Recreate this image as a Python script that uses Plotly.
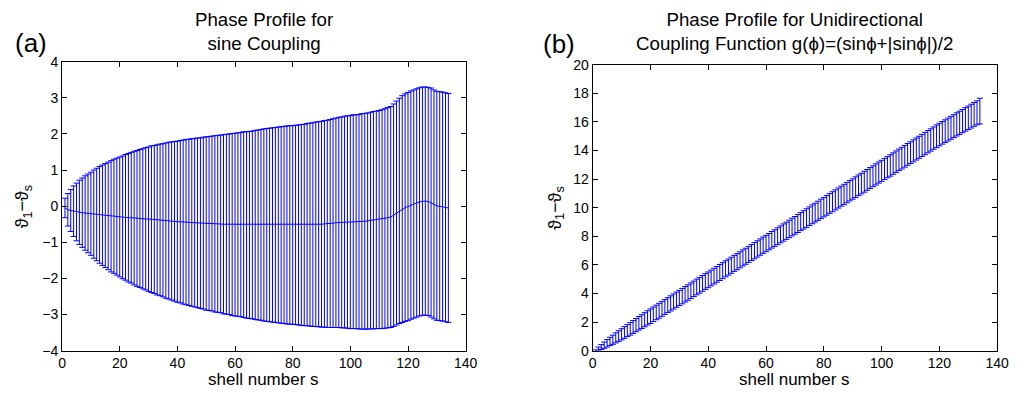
import plotly.graph_objects as go

# ---------------- data ----------------
shells = list(range(1, 135))

# (a) sine coupling: mean phase difference and error half-width
mean_a = [-0.05, -0.10, -0.12, -0.14, -0.16, -0.17, -0.18, -0.19, -0.20, -0.21,
          -0.22, -0.23, -0.24, -0.25, -0.26, -0.27, -0.28, -0.28, -0.29, -0.30,
          -0.31, -0.31, -0.32, -0.32, -0.33, -0.34, -0.34, -0.35, -0.35, -0.36,
          -0.36, -0.37, -0.38, -0.38, -0.39, -0.40, -0.40, -0.41, -0.42, -0.43,
          -0.43, -0.44, -0.44, -0.45, -0.45, -0.46, -0.46, -0.47, -0.47, -0.48,
          -0.48, -0.48, -0.49, -0.49, -0.49, -0.50, -0.50, -0.50, -0.51, -0.51,
          -0.51, -0.51, -0.51, -0.52, -0.52, -0.52, -0.52, -0.52, -0.52, -0.52,
          -0.52, -0.52, -0.52, -0.52, -0.52, -0.52, -0.52, -0.52, -0.52, -0.52,
          -0.52, -0.52, -0.52, -0.52, -0.51, -0.51, -0.51, -0.50, -0.50, -0.50,
          -0.49, -0.49, -0.48, -0.47, -0.46, -0.45, -0.45, -0.44, -0.44, -0.44,
          -0.43, -0.43, -0.43, -0.42, -0.42, -0.41, -0.40, -0.39, -0.38, -0.37,
          -0.36, -0.34, -0.32, -0.30, -0.25, -0.19, -0.13, -0.08, -0.04, -0.01,
          0.03, 0.06, 0.09, 0.12, 0.14, 0.14, 0.13, 0.10, 0.05, 0.01,
          0.00, -0.01, -0.03, -0.05]
err_a = [0.27, 0.45, 0.58, 0.70, 0.80, 0.89, 0.96, 1.03, 1.09, 1.15,
         1.22, 1.28, 1.34, 1.39, 1.44, 1.49, 1.54, 1.58, 1.62, 1.66,
         1.70, 1.74, 1.78, 1.81, 1.85, 1.88, 1.91, 1.94, 1.97, 2.00,
         2.03, 2.05, 2.08, 2.10, 2.12, 2.15, 2.17, 2.19, 2.21, 2.23,
         2.25, 2.27, 2.29, 2.30, 2.32, 2.33, 2.35, 2.36, 2.38, 2.40,
         2.41, 2.42, 2.44, 2.45, 2.46, 2.48, 2.49, 2.50, 2.52, 2.53,
         2.54, 2.55, 2.57, 2.58, 2.59, 2.60, 2.62, 2.63, 2.64, 2.66,
         2.67, 2.68, 2.69, 2.70, 2.71, 2.72, 2.73, 2.74, 2.75, 2.75,
         2.76, 2.77, 2.78, 2.79, 2.80, 2.81, 2.82, 2.83, 2.84, 2.85,
         2.86, 2.87, 2.88, 2.89, 2.90, 2.91, 2.92, 2.93, 2.94, 2.95,
         2.96, 2.96, 2.97, 2.98, 2.99, 2.99, 3.00, 3.01, 3.01, 3.02,
         3.03, 3.04, 3.05, 3.06, 3.08, 3.10, 3.12, 3.14, 3.15, 3.16,
         3.16, 3.16, 3.16, 3.16, 3.16, 3.16, 3.16, 3.17, 3.17, 3.17,
         3.17, 3.17, 3.17, 3.17]

# (b) unidirectional coupling
mean_b = [0.00, 0.13, 0.25, 0.38, 0.51, 0.64, 0.76, 0.89, 1.02, 1.14,
          1.27, 1.40, 1.52, 1.65, 1.78, 1.91, 2.03, 2.16, 2.29, 2.41,
          2.54, 2.67, 2.79, 2.92, 3.05, 3.18, 3.30, 3.43, 3.56, 3.68,
          3.81, 3.94, 4.06, 4.19, 4.32, 4.45, 4.57, 4.70, 4.83, 4.95,
          5.08, 5.21, 5.33, 5.46, 5.59, 5.72, 5.84, 5.97, 6.10, 6.22,
          6.35, 6.48, 6.60, 6.73, 6.86, 6.99, 7.11, 7.24, 7.37, 7.49,
          7.62, 7.75, 7.87, 8.00, 8.13, 8.26, 8.38, 8.51, 8.64, 8.76,
          8.89, 9.02, 9.14, 9.27, 9.40, 9.53, 9.65, 9.78, 9.91, 10.03,
          10.16, 10.29, 10.41, 10.54, 10.67, 10.80, 10.92, 11.05, 11.18, 11.30,
          11.43, 11.56, 11.68, 11.81, 11.94, 12.07, 12.19, 12.32, 12.45, 12.57,
          12.70, 12.83, 12.95, 13.08, 13.21, 13.34, 13.46, 13.59, 13.72, 13.84,
          13.97, 14.10, 14.22, 14.35, 14.48, 14.61, 14.73, 14.86, 14.99, 15.11,
          15.23, 15.35, 15.46, 15.58, 15.70, 15.82, 15.93, 16.05, 16.17, 16.28,
          16.40, 16.52, 16.63, 16.75]
err_b = [0.05, 0.12, 0.17, 0.22, 0.26, 0.29, 0.32, 0.35, 0.37, 0.39,
         0.41, 0.42, 0.44, 0.45, 0.46, 0.47, 0.48, 0.49, 0.50, 0.51,
         0.51, 0.51, 0.52, 0.52, 0.52, 0.52, 0.53, 0.53, 0.53, 0.53,
         0.54, 0.54, 0.54, 0.54, 0.54, 0.55, 0.55, 0.55, 0.55, 0.55,
         0.55, 0.55, 0.55, 0.56, 0.56, 0.56, 0.56, 0.56, 0.56, 0.56,
         0.56, 0.56, 0.56, 0.56, 0.56, 0.57, 0.57, 0.57, 0.57, 0.57,
         0.57, 0.58, 0.58, 0.59, 0.59, 0.60, 0.60, 0.61, 0.62, 0.62,
         0.63, 0.63, 0.64, 0.65, 0.65, 0.66, 0.66, 0.67, 0.68, 0.68,
         0.69, 0.69, 0.70, 0.70, 0.70, 0.70, 0.71, 0.71, 0.71, 0.71,
         0.72, 0.72, 0.72, 0.73, 0.73, 0.73, 0.73, 0.74, 0.74, 0.74,
         0.74, 0.74, 0.75, 0.75, 0.75, 0.75, 0.76, 0.76, 0.76, 0.76,
         0.77, 0.77, 0.77, 0.77, 0.78, 0.78, 0.78, 0.78, 0.79, 0.79,
         0.79, 0.79, 0.80, 0.80, 0.80, 0.81, 0.81, 0.81, 0.82, 0.82,
         0.83, 0.83, 0.84, 0.90]

x_ticks = [0, 20, 40, 60, 80, 100, 120, 140]
y_ticks_a = [-4, -3, -2, -1, 0, 1, 2, 3, 4]
y_ticks_b = [0, 2, 4, 6, 8, 10, 12, 14, 16, 18, 20]

title_a = "Phase Profile for<br>sine Coupling"
title_b = "Phase Profile for Unidirectional<br>Coupling Function g(\u03d5)=(sin\u03d5+|sin\u03d5|)/2"
x_title = "shell number s"
y_title = "\u03d1<sub>1</sub>\u2212\u03d1<sub>s</sub>"

# ---------------- figure ----------------
W, H = 1023, 397
FONT = "Liberation Sans, Arial, Helvetica, sans-serif"
BLUE = "#0000ff"

fig = go.Figure()

def add_panel(mean, err, xa, ya, show_line):
    fig.add_trace(go.Scatter(
        x=shells, y=mean, mode="lines" if show_line else "markers",
        line=dict(color=BLUE, width=1),
        marker=dict(size=1, color="rgba(0,0,0,0)"),
        error_y=dict(type="data", array=err, visible=True,
                     color=BLUE, thickness=1, width=3),
        xaxis=xa, yaxis=ya, showlegend=False, hoverinfo="skip"))

add_panel(mean_a, err_a, "x", "y", True)
add_panel(mean_b, err_b, "x2", "y2", False)

def px_x(p):
    return p / W

def px_y(p):
    return 1 - p / H

axis_common = dict(
    showline=True, linecolor="black", linewidth=1, mirror="ticks",
    ticks="inside", ticklen=5, tickcolor="black", tickwidth=1,
    showgrid=False, zeroline=False,
    tickfont=dict(family=FONT, size=14, color="black"),
)

fig.update_layout(
    width=W, height=H,
    margin=dict(l=0, r=0, t=0, b=0),
    paper_bgcolor="white", plot_bgcolor="white",
    font=dict(family=FONT, color="black"),
    xaxis=dict(domain=[px_x(59), px_x(469)], range=[0, 140],
               tickvals=x_ticks, anchor="y", **axis_common),
    yaxis=dict(domain=[px_y(357), px_y(56)], range=[-4, 4],
               tickvals=y_ticks_a, anchor="x", **axis_common),
    xaxis2=dict(domain=[px_x(598), px_x(1009)], range=[0, 140],
                tickvals=x_ticks, anchor="y2", **axis_common),
    yaxis2=dict(domain=[px_y(357), px_y(59)], range=[0, 20],
                tickvals=y_ticks_b, anchor="x2", **axis_common),
)

ann = []
# panel titles
ann.append(dict(text=title_a, x=px_x(264), y=px_y(25), xanchor="center", yanchor="middle",
                font=dict(family=FONT, size=18.7)))
ann.append(dict(text=title_b, x=px_x(803), y=px_y(25), xanchor="center", yanchor="middle",
                font=dict(family=FONT, size=18.7)))
# panel labels
ann.append(dict(text="(a)", x=px_x(27), y=px_y(36), xanchor="center", yanchor="middle",
                font=dict(family=FONT, size=26)))
ann.append(dict(text="(b)", x=px_x(564), y=px_y(37), xanchor="center", yanchor="middle",
                font=dict(family=FONT, size=26)))
# x titles
ann.append(dict(text=x_title, x=px_x(264), y=px_y(387), xanchor="center", yanchor="middle",
                font=dict(family=FONT, size=17)))
ann.append(dict(text=x_title, x=px_x(803), y=px_y(387), xanchor="center", yanchor="middle",
                font=dict(family=FONT, size=17)))
# y titles
ann.append(dict(text=y_title, x=px_x(20), y=px_y(207), xanchor="center", yanchor="middle",
                textangle=-90, font=dict(family=FONT, size=18)))
ann.append(dict(text=y_title, x=px_x(561), y=px_y(208), xanchor="center", yanchor="middle",
                textangle=-90, font=dict(family=FONT, size=18)))

for a in ann:
    a.update(xref="paper", yref="paper", showarrow=False)
fig.update_layout(annotations=ann)

fig.write_html("out.html")
